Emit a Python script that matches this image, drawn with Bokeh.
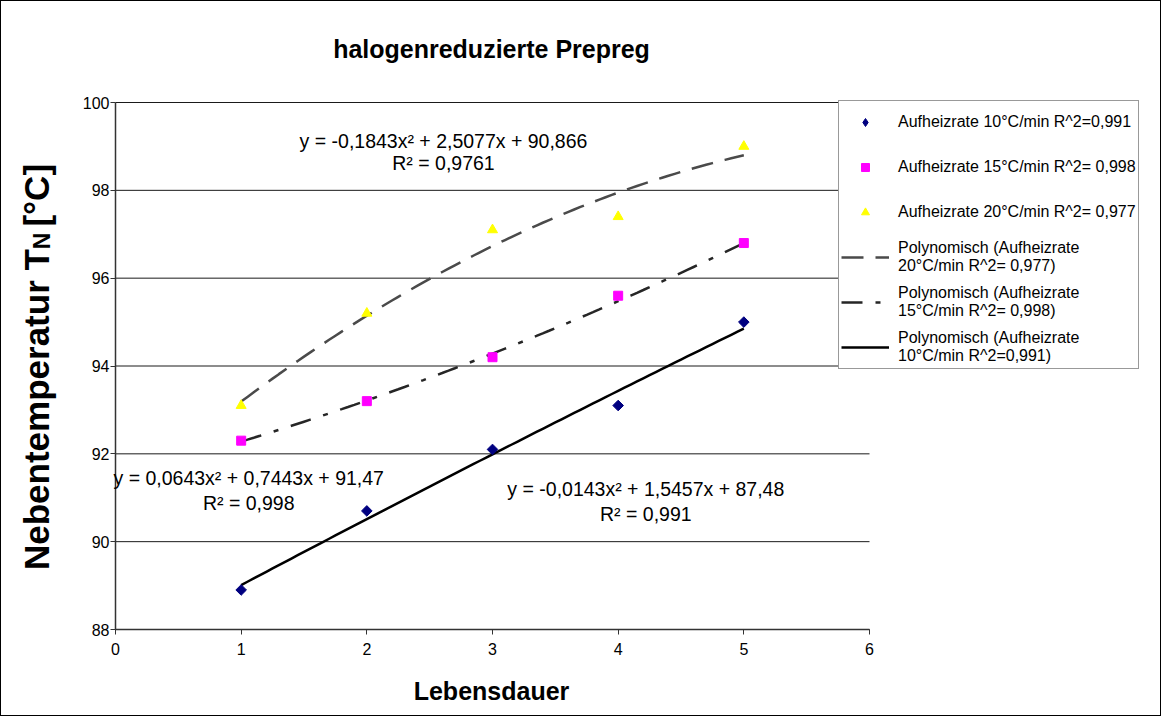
import numpy as np
from bokeh.plotting import figure
from bokeh.models import Label, Legend, LegendItem, FixedTicker, Range1d, LinearAxis
from bokeh.embed import file_html
from bokeh.resources import INLINE

# Measurements: lifetime step vs. secondary temperature T_N for three heating rates
lebensdauer = [1, 2, 3, 4, 5]
rate10 = [88.9, 90.7, 92.1, 93.1, 95.0]
rate15 = [92.3, 93.2, 94.2, 95.6, 96.8]
rate20 = [93.1, 95.2, 97.1, 97.4, 99.0]

# Polynomial trend coefficients (x^2, x, const) as stated in the equations
fit10 = [-0.0143, 1.5457, 87.48]
fit15 = [0.0643, 0.7443, 91.47]
fit20 = [-0.1843, 2.5077, 90.866]

x_ticks = [0, 1, 2, 3, 4, 5, 6]
y_ticks = [88, 90, 92, 94, 96, 98, 100]

FONT = "Liberation Sans"
W, H = 1161, 716

# plot area spans x 0..6 and y 88..100; the ranges are widened so the whole
# canvas is the drawing frame and titles / legend are not clipped
PX_X = 754 / 6.0
PX_Y = 527 / 12.0
x_rng = Range1d(0 - 114 / PX_X, 6 + (W - 868) / PX_X)
y_rng = Range1d(88 - (H - 628) / PX_Y, 100 + 101 / PX_Y)


def dx(px):
    return x_rng.start + (px - 1) / PX_X


def dy(py):
    return y_rng.end - (py - 1) / PX_Y


p = figure(width=W, height=H, x_range=x_rng, y_range=y_rng,
           x_axis_location=None, y_axis_location=None,
           output_backend="svg", toolbar_location=None, min_border=0)
p.styles = {"border": "1px solid #000000"}
p.outline_line_color = None
p.background_fill_color = "white"
p.border_fill_color = "white"
p.xgrid.visible = False
p.ygrid.visible = False

# horizontal grid lines across the plot area
p.segment(x0=[x_ticks[0]] * len(y_ticks), x1=[x_ticks[-1]] * len(y_ticks),
          y0=y_ticks, y1=y_ticks, line_color="#1a1a1a", line_width=1)

xaxis = LinearAxis(fixed_location=y_ticks[0], bounds=(x_ticks[0], x_ticks[-1]),
                   ticker=FixedTicker(ticks=x_ticks))
yaxis = LinearAxis(fixed_location=x_ticks[0], bounds=(y_ticks[0], y_ticks[-1]),
                   ticker=FixedTicker(ticks=y_ticks))
for ax, standoff in ((xaxis, 8), (yaxis, 1)):
    ax.major_tick_out = 5
    ax.major_tick_in = 0
    ax.minor_tick_line_color = None
    ax.axis_line_color = "#333333"
    ax.axis_line_width = 1.5
    ax.major_tick_line_color = "#333333"
    ax.major_label_text_font = FONT
    ax.major_label_text_font_size = "16px"
    ax.major_label_text_color = "black"
    ax.major_label_standoff = standoff
p.add_layout(xaxis, "below")
p.add_layout(yaxis, "left")

# trend curves
xs = np.linspace(lebensdauer[0], lebensdauer[-1], 81)
t20 = p.line(xs, np.polyval(fit20, xs), line_color="#4a4a4a", line_width=2.5, line_dash="22 12")
t15 = p.line(xs, np.polyval(fit15, xs), line_color="#262626", line_width=2.5, line_dash="21 13 5 13")
t10 = p.line(xs, np.polyval(fit10, xs), line_color="black", line_width=2.5)

# measured points
s10 = p.scatter(lebensdauer, rate10, marker="square", angle=np.pi / 4, size=7.5,
                fill_color="#000080", line_color="#000080")
s15 = p.scatter(lebensdauer, rate15, marker="square", size=9, fill_color="#FF00FF", line_color="#FF00FF")
s20 = p.scatter(lebensdauer, rate20, marker="triangle", size=10, fill_color="#FFFF00", line_color="#FFFF00")
# diamond glyph used only for the legend swatch of the 10 °C series
k10 = p.scatter(lebensdauer, rate10, marker="diamond", size=12, fill_color="#000080",
                line_color="#000080", visible=False)

legend = Legend(items=[
    LegendItem(label="Aufheizrate 10°C/min R^2=0,991", renderers=[k10]),
    LegendItem(label="Aufheizrate 15°C/min R^2= 0,998", renderers=[s15]),
    LegendItem(label="Aufheizrate 20°C/min R^2= 0,977", renderers=[s20]),
    LegendItem(label="Polynomisch (Aufheizrate\n20°C/min R^2= 0,977)", renderers=[t20]),
    LegendItem(label="Polynomisch (Aufheizrate\n15°C/min R^2= 0,998)", renderers=[t15]),
    LegendItem(label="Polynomisch (Aufheizrate\n10°C/min R^2=0,991)", renderers=[t10]),
], location=(837, H - 368))
legend.label_text_font = FONT
legend.label_text_font_size = "16px"
legend.label_text_color = "black"
legend.label_height = 38
legend.glyph_height = 20
legend.glyph_width = 48
legend.label_standoff = 9
legend.spacing = 7
legend.padding = 2
legend.margin = 0
legend.inactive_fill_alpha = 0
legend.border_line_color = "#333333"
legend.border_line_width = 1
legend.background_fill_color = "white"
legend.background_fill_alpha = 1
p.add_layout(legend, "center")


# trend equations
def eq(x, y, text):
    p.add_layout(Label(x=x, y=y, text=text, text_font=FONT, text_font_size="19.5px",
                       text_align="center", text_baseline="middle", text_color="black"))


eq(2.61, 99.13, "y = -0,1843x² + 2,5077x + 90,866")
eq(2.61, 98.63, "R² = 0,9761")
eq(1.06, 91.44, "y = 0,0643x² + 0,7443x + 91,47")
eq(1.06, 90.87, "R² = 0,998")
eq(4.22, 91.19, "y = -0,0143x² + 1,5457x + 87,48")
eq(4.22, 90.64, "R² = 0,991")

# chart title and axis titles
p.add_layout(Label(x=dx(491), y=dy(48), text="halogenreduzierte Prepreg", text_font=FONT,
                   text_font_size="25px", text_font_style="bold", text_align="center",
                   text_baseline="middle", text_color="black"))
p.add_layout(Label(x=dx(491), y=dy(690), text="Lebensdauer", text_font=FONT,
                   text_font_size="25px", text_font_style="bold", text_align="center",
                   text_baseline="middle", text_color="black"))

# vertical title with subscript N, assembled from three rotated pieces
ysz, nsz = 35, 23
len_main = 9.168 * ysz
len_n = 0.722 * nsz
gap = 6
len_tail = 1.788 * ysz
start = 366.5 + (len_main + len_n + gap + len_tail) / 2
p.add_layout(Label(x=dx(36), y=dy(start), text="Nebentemperatur T", angle=np.pi / 2,
                   text_font=FONT, text_font_size=f"{ysz}px", text_font_style="bold",
                   text_align="left", text_baseline="alphabetic", text_color="black"))
p.add_layout(Label(x=dx(41), y=dy(start - len_main), text="N", angle=np.pi / 2,
                   text_font=FONT, text_font_size=f"{nsz}px", text_font_style="bold",
                   text_align="left", text_baseline="alphabetic", text_color="black"))
p.add_layout(Label(x=dx(36), y=dy(start - len_main - len_n - gap), text="[°C]", angle=np.pi / 2,
                   text_font=FONT, text_font_size=f"{ysz}px", text_font_style="bold",
                   text_align="left", text_baseline="alphabetic", text_color="black"))

open("out.html", "w").write(file_html(p, INLINE))
